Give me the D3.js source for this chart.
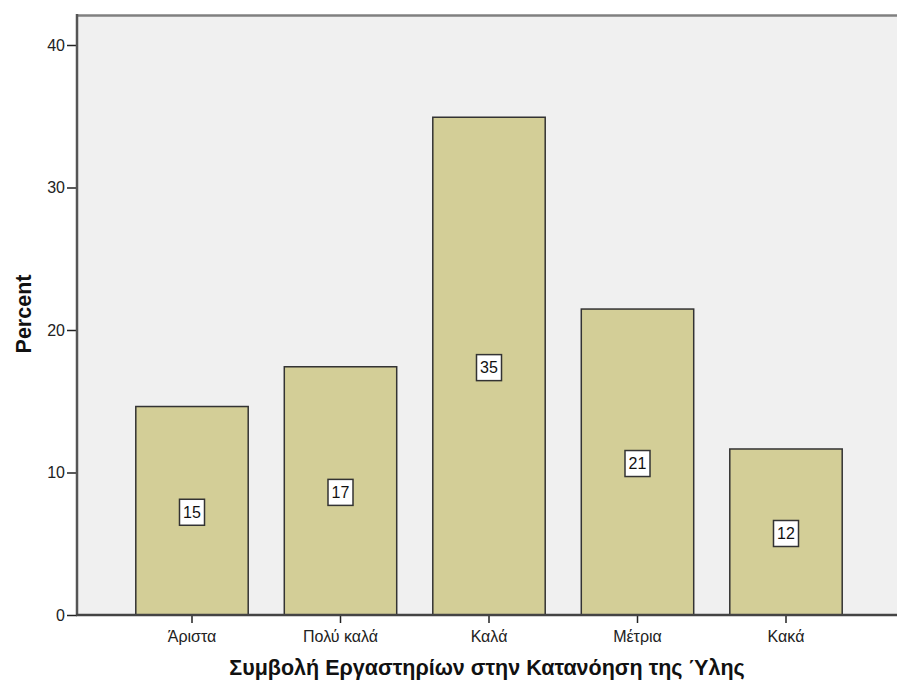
<!DOCTYPE html>
<html>
<head>
<meta charset="utf-8">
<script src="https://cdn.jsdelivr.net/npm/d3@7"></script>
<style>
html,body{margin:0;padding:0;background:#fff;}
svg{display:block;font-family:Arial,"Liberation Sans",sans-serif;}
</style>
</head>
<body>
<svg id="chart" width="897" height="684"></svg>
<script>
const categories = ["Άριστα", "Πολύ καλά", "Καλά", "Μέτρια", "Κακά"];
const percents = [14.63, 17.42, 34.93, 21.47, 11.65];
const barLabels = ["15", "17", "35", "21", "12"];
const yTicks = [0, 10, 20, 30, 40];
const xTitle = "Συμβολή Εργαστηρίων στην Κατανόηση της Ύλης";
const yTitle = "Percent";

const svg = d3.select("#chart");
const plot = {left: 77, top: 15, right: 897, bottom: 615};
const FONT = "Arial, 'Liberation Sans', sans-serif";

const x = d3.scaleBand()
  .domain(categories)
  .range([117.75, 860.25])
  .paddingInner(0.243)
  .paddingOuter(0.1215);

const y = d3.scaleLinear().domain([0, 40]).range([615, 45]);

// plot background
svg.append("rect")
  .attr("x", plot.left).attr("y", plot.top)
  .attr("width", plot.right - plot.left).attr("height", plot.bottom - plot.top)
  .attr("fill", "#f0f0f0");

// top border
svg.append("line")
  .attr("x1", plot.left).attr("x2", plot.right)
  .attr("y1", plot.top + 0.5).attr("y2", plot.top + 0.5)
  .attr("stroke", "#808080").attr("stroke-width", 2.5);

// bars
svg.append("g").selectAll("rect")
  .data(categories)
  .join("rect")
  .attr("x", d => x(d))
  .attr("y", (d, i) => y(percents[i]))
  .attr("width", x.bandwidth())
  .attr("height", (d, i) => y(0) - y(percents[i]))
  .attr("fill", "#d3ce97")
  .attr("stroke", "#333")
  .attr("stroke-width", 1.5);

// y axis
const yAxis = d3.axisLeft(y).tickValues(yTicks).tickSize(10).tickPadding(2).tickFormat(d3.format("d"));
const gy = svg.append("g").attr("transform", `translate(${plot.left},0)`).call(yAxis);
gy.select(".domain").remove();
gy.selectAll(".tick line").attr("stroke", "#222").attr("stroke-width", 1.5);
gy.selectAll(".tick text").attr("font-size", 16).attr("fill", "#222").attr("font-family", FONT);
svg.append("line")
  .attr("x1", plot.left).attr("x2", plot.left)
  .attr("y1", plot.top - 1).attr("y2", plot.bottom)
  .attr("stroke", "#555").attr("stroke-width", 2.5);

// x axis
const xAxis = d3.axisBottom(x).tickSize(8).tickPadding(8);
const gx = svg.append("g").attr("transform", `translate(0,${plot.bottom})`).call(xAxis);
gx.select(".domain").remove();
gx.selectAll(".tick line").attr("stroke", "#222").attr("stroke-width", 1.5);
gx.selectAll(".tick text").attr("font-size", 16).attr("fill", "#222").attr("font-family", FONT);
svg.append("line")
  .attr("x1", plot.left - 1).attr("x2", plot.right)
  .attr("y1", plot.bottom).attr("y2", plot.bottom)
  .attr("stroke", "#444").attr("stroke-width", 2.5);

// value labels
const lab = svg.append("g").selectAll("g")
  .data(categories)
  .join("g")
  .attr("transform", (d, i) => `translate(${x(d) + x.bandwidth() / 2},${(y(0) + y(percents[i])) / 2 + 1.5})`);
lab.append("rect")
  .attr("x", -12.5).attr("y", -13).attr("width", 25).attr("height", 26)
  .attr("fill", "#fff").attr("stroke", "#333").attr("stroke-width", 1.5);
lab.append("text")
  .attr("text-anchor", "middle").attr("dy", "0.36em")
  .attr("font-size", 16).attr("fill", "#111").attr("font-family", FONT)
  .text((d, i) => barLabels[i]);

// titles
svg.append("text")
  .attr("x", (plot.left + plot.right) / 2).attr("y", 675)
  .attr("text-anchor", "middle").attr("font-size", 21.5).attr("font-weight", "bold").attr("fill", "#111")
  .attr("font-family", FONT)
  .text(xTitle);
svg.append("text")
  .attr("transform", `translate(31,${(plot.top + plot.bottom) / 2 - 1}) rotate(-90)`)
  .attr("text-anchor", "middle").attr("font-size", 21.5).attr("font-weight", "bold").attr("fill", "#111")
  .attr("font-family", FONT)
  .text(yTitle);
</script>
</body>
</html>
